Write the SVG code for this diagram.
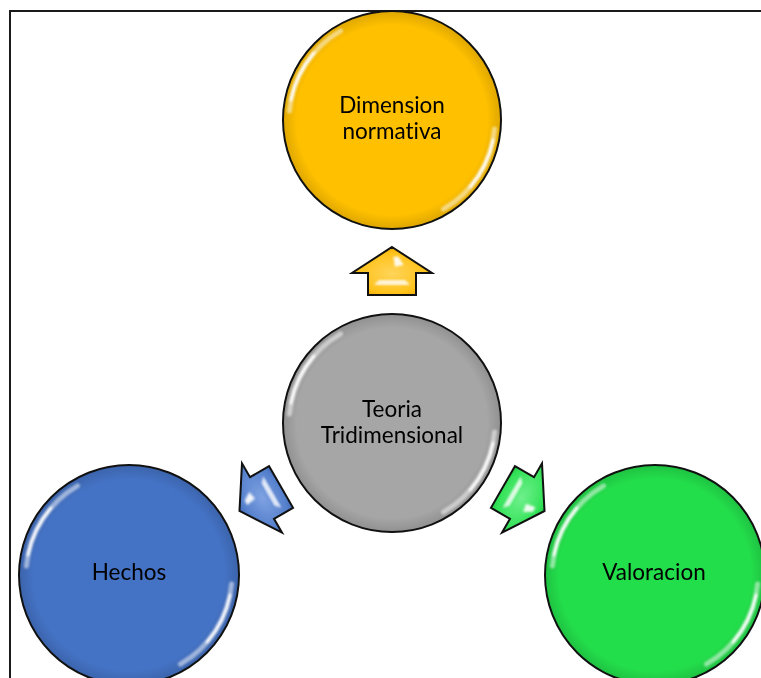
<svg xmlns="http://www.w3.org/2000/svg" xmlns:xlink="http://www.w3.org/1999/xlink" width="761" height="678" viewBox="0 0 761 678">
  <style>
    .frame { fill: none; stroke: #1a1a1a; stroke-width: 2; }
    .circle { stroke: #111; stroke-width: 2; }
    .label { font-family: Lato, "Liberation Sans", sans-serif; font-size: 22.5px; fill: #000; text-anchor: middle; font-variant-ligatures: none; font-feature-settings: "liga" 0, "clig" 0; }
    .arrow { stroke: #111; stroke-width: 2; stroke-linejoin: miter; }
    .hl-faint { fill: none; stroke: #fff; stroke-width: 5; stroke-linecap: round; opacity: 0.5; }
    .hl-bright { fill: none; stroke: #fff; stroke-width: 3; stroke-linecap: round; opacity: 0.95; }
  </style>
  <defs>
    <filter id="soft" x="-20%" y="-20%" width="140%" height="140%">
      <feGaussianBlur stdDeviation="1.3"/>
    </filter>
    <filter id="soft2" x="-20%" y="-20%" width="140%" height="140%">
      <feGaussianBlur stdDeviation="0.8"/>
    </filter>
    <radialGradient id="rim" cx="0.5" cy="0.5" r="0.5">
      <stop offset="0.88" stop-color="#000" stop-opacity="0"/>
      <stop offset="1" stop-color="#000" stop-opacity="0.12"/>
    </radialGradient>
    <radialGradient id="gYellow" cx="0.45" cy="0.5" r="0.6">
      <stop offset="0" stop-color="#FFD45A"/>
      <stop offset="0.7" stop-color="#FFC21A"/>
      <stop offset="1" stop-color="#E8A400"/>
    </radialGradient>
    <radialGradient id="gBlue" cx="0.45" cy="0.5" r="0.6">
      <stop offset="0" stop-color="#7FA2E2"/>
      <stop offset="0.7" stop-color="#5580CC"/>
      <stop offset="1" stop-color="#3A63B0"/>
    </radialGradient>
    <radialGradient id="gGreen" cx="0.45" cy="0.5" r="0.6">
      <stop offset="0" stop-color="#6FF08C"/>
      <stop offset="0.7" stop-color="#33E258"/>
      <stop offset="1" stop-color="#1CC240"/>
    </radialGradient>
    <path id="arrowShape" d="M26,0 L0,40 L0,24 L-22,24 L-22,-24 L0,-24 L0,-40 Z"/>
    <g id="arrowHl" fill="#fff">
      <polygon points="16.3,1.3 16.3,6.5 8,11.5 6.3,3" opacity="0.9" filter="url(#soft2)"/>
      <polygon points="-7,-13 -7,13 -12,18 -12,-18" opacity="0.8" filter="url(#soft2)"/>
    </g>
    <g id="circleHl" filter="url(#soft)">
      <path class="hl-faint" d="M-102.6,-9 A103,103 0 0 1 -51.5,-89.2"/>
      <path class="hl-bright" d="M-101,-20 A103,103 0 0 1 -78,-67"/>
      <path class="hl-faint" d="M102.6,9 A103,103 0 0 1 51.5,89.2"/>
      <path class="hl-bright" d="M101,20 A103,103 0 0 1 78,67"/>
    </g>
  </defs>

  <path class="frame" d="M10,678 V11 H761"/>

  <g id="connectors">
    <g id="arrow-up" transform="translate(392,273) rotate(-90)">
      <use xlink:href="#arrowShape" href="#arrowShape" class="arrow" fill="url(#gYellow)"/>
      <use xlink:href="#arrowHl" href="#arrowHl"/>
    </g>
    <g id="arrow-left" transform="translate(262,498) rotate(150)">
      <use xlink:href="#arrowShape" href="#arrowShape" class="arrow" fill="url(#gBlue)"/>
      <use xlink:href="#arrowHl" href="#arrowHl"/>
    </g>
    <g id="arrow-right" transform="translate(522,498) rotate(30)">
      <use xlink:href="#arrowShape" href="#arrowShape" class="arrow" fill="url(#gGreen)"/>
      <use xlink:href="#arrowHl" href="#arrowHl"/>
    </g>
  </g>

  <g id="node-dimension">
    <circle class="circle" cx="392" cy="120" r="109" fill="#FFC000"/>
    <circle cx="392" cy="120" r="108" fill="url(#rim)"/>
    <use xlink:href="#circleHl" href="#circleHl" transform="translate(392,120)"/>
    <text class="label" x="392" y="113">Dimension</text>
    <text class="label" x="392" y="139">normativa</text>
  </g>

  <g id="node-teoria">
    <circle class="circle" cx="392" cy="423" r="109" fill="#A6A6A6"/>
    <circle cx="392" cy="423" r="108" fill="url(#rim)"/>
    <use xlink:href="#circleHl" href="#circleHl" transform="translate(392,423)"/>
    <text class="label" x="392" y="417">Teoria</text>
    <text class="label" x="392" y="443">Tridimensional</text>
  </g>

  <g id="node-hechos">
    <circle class="circle" cx="129" cy="575" r="110" fill="#4472C4"/>
    <circle cx="129" cy="575" r="109" fill="url(#rim)"/>
    <use xlink:href="#circleHl" href="#circleHl" transform="translate(129,575)"/>
    <text class="label" x="129" y="580">Hechos</text>
  </g>

  <g id="node-valoracion">
    <circle class="circle" cx="655" cy="575" r="110" fill="#23DE4B"/>
    <circle cx="655" cy="575" r="109" fill="url(#rim)"/>
    <use xlink:href="#circleHl" href="#circleHl" transform="translate(655,575)"/>
    <text class="label" x="654" y="580">Valoracion</text>
  </g>
</svg>
